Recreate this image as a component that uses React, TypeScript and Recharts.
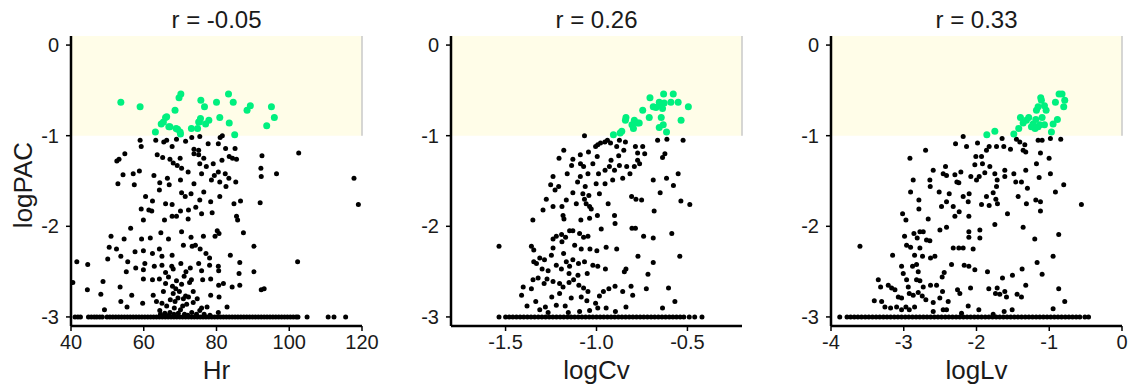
import { ScatterChart, Scatter, XAxis, YAxis, ReferenceArea, ReferenceLine } from 'recharts';

const FONT = '"Liberation Sans", Arial, Helvetica, sans-serif';

type P = [number, number];

const titles = ['r = -0.05', 'r = 0.26', 'r = 0.33'];
const xNames = ['Hr', 'logCv', 'logLv'];
const yName = 'logPAC';

const yTicks = [-3, -2, -1, 0];
const hrTicks = [40, 60, 80, 100, 120];
const cvTicks = [-1.5, -1.0, -0.5];
const lvTicks = [-4, -3, -2, -1, 0];

// ---- Hr panel ----
const hrHigh: P[] = [
  [53.7, -0.63], [59.0, -0.68], [70.2, -0.54], [69.7, -0.58], [68.6, -0.72], [66.0, -0.80], [65.4, -0.85],
  [64.8, -0.87], [63.2, -0.96], [67.2, -0.90], [68.9, -0.92], [70.0, -0.96], [69.3, -0.93], [75.7, -0.61],
  [76.7, -0.68], [75.6, -0.81], [75.1, -0.85], [74.8, -0.92], [73.1, -0.92], [77.9, -0.83], [77.0, -0.87],
  [80.0, -0.63], [80.9, -0.80], [83.3, -0.54], [84.6, -0.63], [83.5, -0.86], [85.0, -0.99], [88.4, -0.72],
  [89.3, -0.67], [95.1, -0.68], [95.9, -0.80], [93.8, -0.89], [66.3, -0.79], [66.9, -0.90], [70.1, -0.98],
  [75.3, -0.85],
];
const hrLow: P[] = [
  [59.0, -1.05], [59.3, -1.12], [63.3, -1.05], [65.5, -1.07], [66.3, -1.05], [69.0, -1.04], [71.5, -1.06],
  [73.2, -1.02], [75.4, -1.01], [67.8, -1.12], [73.8, -1.15], [75.1, -1.16], [77.7, -1.09], [81.0, -1.02],
  [81.6, -1.00], [80.5, -1.09], [85.1, -1.14], [82.5, -1.14], [102.6, -1.19],
  [52.6, -1.28], [53.2, -1.26], [54.8, -1.20], [63.7, -1.21], [65.2, -1.24], [67.2, -1.26], [68.1, -1.30],
  [70.0, -1.25], [69.2, -1.33], [70.4, -1.36], [73.8, -1.20], [75.1, -1.21], [76.5, -1.25], [77.2, -1.34],
  [75.4, -1.31], [75.9, -1.42], [79.1, -1.31], [80.5, -1.40], [81.5, -1.27], [83.5, -1.23], [84.4, -1.25],
  [85.5, -1.26], [92.5, -1.22], [92.2, -1.36], [92.3, -1.45], [96.5, -1.42], [117.8, -1.47], [119.0, -1.76],
  [54.3, -1.43], [52.9, -1.53], [57.1, -1.42], [57.4, -1.54], [58.8, -1.39], [62.8, -1.44], [64.3, -1.60],
  [64.4, -1.52], [66.5, -1.47], [67.0, -1.54], [70.1, -1.49], [72.2, -1.40], [73.8, -1.53], [78.6, -1.49],
  [79.4, -1.44], [80.9, -1.51], [82.6, -1.56], [83.4, -1.47], [85.3, -1.51], [82.4, -1.42], [60.5, -1.67],
  [62.4, -1.72], [61.4, -1.82], [66.0, -1.75], [67.8, -1.76], [70.4, -1.63], [71.4, -1.67], [73.0, -1.64],
  [72.3, -1.82], [75.4, -1.71], [76.5, -1.62], [78.4, -1.73], [80.9, -1.67], [84.8, -1.75], [86.6, -1.72],
  [92.0, -1.74], [59.3, -1.81], [62.2, -1.83], [70.1, -1.83], [74.3, -1.79],
  [59.9, -1.93], [56.4, -2.02], [65.7, -1.93], [67.8, -1.89], [69.0, -1.89], [72.2, -1.92], [75.9, -1.86],
  [78.8, -1.85], [85.5, -1.89], [85.8, -1.93], [70.4, -2.06], [64.7, -2.07], [59.4, -2.14], [61.8, -2.13],
  [51.0, -2.11], [54.6, -2.14], [66.8, -2.14], [73.0, -2.12], [76.4, -2.11], [80.2, -2.05], [80.7, -2.08],
  [79.6, -2.11], [87.4, -2.07], [74.2, -2.21],
  [50.5, -2.23], [52.5, -2.25], [50.1, -2.36], [53.7, -2.33], [57.6, -2.28], [59.9, -2.27], [62.4, -2.30],
  [64.3, -2.25], [65.0, -2.33], [67.8, -2.32], [70.9, -2.21], [73.3, -2.22], [75.5, -2.25], [77.1, -2.30],
  [78.1, -2.35], [83.8, -2.32], [90.3, -2.22], [41.6, -2.39], [44.6, -2.42], [55.6, -2.39], [57.8, -2.46],
  [60.3, -2.41], [62.9, -2.44], [65.0, -2.43], [67.7, -2.44], [70.2, -2.41], [72.8, -2.46], [75.1, -2.41],
  [78.1, -2.43], [80.5, -2.44], [86.4, -2.40], [102.3, -2.39], [55.2, -2.50], [59.9, -2.48], [66.0, -2.51],
  [68.1, -2.47], [71.6, -2.50], [75.9, -2.49], [80.6, -2.49], [86.2, -2.52], [90.3, -2.50],
  [40.5, -2.62], [44.5, -2.70], [48.2, -2.75], [48.8, -2.61], [53.5, -2.67], [56.7, -2.76], [59.9, -2.58],
  [62.4, -2.59], [64.3, -2.58], [66.8, -2.56], [69.0, -2.60], [70.4, -2.64], [73.1, -2.59], [76.2, -2.59],
  [78.4, -2.58], [80.6, -2.65], [81.9, -2.63], [84.3, -2.67], [86.4, -2.65], [92.3, -2.70], [93.1, -2.69],
  [62.6, -2.76], [65.4, -2.72], [68.1, -2.74], [71.5, -2.77], [73.6, -2.72], [78.4, -2.76], [80.7, -2.78],
  [49.2, -2.92], [53.7, -2.83], [55.4, -2.89], [59.7, -2.85], [63.5, -2.83], [66.3, -2.88], [68.6, -2.83],
  [71.8, -2.86], [73.6, -2.84], [75.9, -2.90], [77.4, -2.89], [82.9, -2.89], [64.4, -2.93], [67.2, -2.95],
  [70.1, -2.92], [73.2, -2.95], [75.4, -2.93], [80.5, -2.95], [64.6, -2.97], [65.8, -2.96], [66.9, -2.98],
  [68.3, -2.97], [69.5, -2.96], [71.2, -2.97], [72.1, -2.98], [74.5, -2.97], [76.6, -2.97], [78.2, -2.98],
  [67.9, -2.66], [68.8, -2.69], [69.8, -2.72], [70.9, -2.80], [72.3, -2.78], [69.4, -2.79], [67.3, -2.81],
  [66.0, -2.63], [71.1, -2.55], [72.6, -2.62], [74.7, -2.80], [68.4, -2.90], [65.0, -2.85], [70.7, -2.88],
];
const hrFloor = [
  41.1, 41.9, 42.6, 44.8, 45.6, 46.4, 47.1, 47.9, 48.6, 49.9, 50.7, 51.5, 52.3, 53.1, 53.9, 54.7, 55.5,
  56.3, 57.1, 57.9, 58.7, 59.5, 60.3, 61.1, 61.9, 62.7, 63.5, 64.3, 65.1, 65.9, 66.7, 67.5, 68.3, 69.1,
  69.9, 70.7, 71.5, 72.3, 73.1, 73.9, 74.7, 75.5, 76.3, 77.1, 77.9, 78.7, 79.5, 80.3, 81.1, 81.9, 82.7,
  83.5, 84.3, 85.1, 85.9, 86.7, 87.5, 88.3, 89.1, 89.9, 90.7, 91.5, 92.3, 93.1, 93.9, 94.7, 95.5, 96.3,
  97.1, 97.9, 98.7, 99.5, 100.3, 101.1, 101.9, 102.4, 104.9, 110.7, 112.3, 115.5,
];

// ---- logCv panel ----
const cvHigh: P[] = [
  [-0.907, -0.99], [-0.87, -0.97], [-0.861, -0.95], [-0.838, -0.80], [-0.841, -0.83], [-0.792, -0.83],
  [-0.805, -0.88], [-0.797, -0.92], [-0.774, -0.86], [-0.765, -0.86], [-0.746, -0.72], [-0.706, -0.58],
  [-0.71, -0.80], [-0.688, -0.68], [-0.673, -0.69], [-0.655, -0.63], [-0.646, -0.66], [-0.637, -0.70],
  [-0.644, -0.80], [-0.631, -0.54], [-0.628, -0.64], [-0.578, -0.54], [-0.591, -0.63], [-0.551, -0.63],
  [-0.495, -0.68], [-0.535, -0.83], [-0.655, -0.91], [-0.633, -0.88], [-0.615, -0.96],
];
const cvLow: P[] = [
  [-1.066, -1.00], [-0.664, -1.05], [-0.613, -1.04], [-0.524, -1.05], [-0.624, -1.20], [-0.637, -1.24],
  [-0.551, -1.42], [-0.615, -1.47], [-0.688, -1.49], [-0.577, -1.55], [-0.650, -1.63], [-0.536, -1.72],
  [-0.487, -1.76], [-0.683, -1.83], [-0.586, -2.08], [-0.688, -2.13], [-0.741, -2.11], [-0.542, -2.33],
  [-0.688, -2.40], [-0.717, -2.53], [-0.604, -2.68], [-0.726, -2.69], [-0.569, -2.83], [-0.637, -2.90],
  [-1.536, -2.22], [-1.350, -1.93],
  [-1.18, -1.16], [-1.130, -1.26], [-1.089, -1.21], [-1.044, -1.18], [-1.005, -1.12], [-0.993, -1.10],
  [-0.978, -1.08], [-0.954, -1.07], [-0.940, -1.05], [-0.923, -1.08], [-0.889, -1.12], [-0.874, -1.05],
  [-0.841, -1.07], [-0.850, -1.16], [-0.786, -1.12], [-0.774, -1.19], [-0.746, -1.12], [-0.735, -1.20],
  [-0.878, -1.22], [-0.920, -1.27], [-0.996, -1.23], [-1.020, -1.31], [-1.088, -1.31], [-1.206, -1.25],
  [-1.137, -1.33], [-1.071, -1.34], [-1.047, -1.42], [-0.989, -1.42], [-0.953, -1.38], [-0.929, -1.34],
  [-0.901, -1.38], [-0.874, -1.33], [-0.834, -1.34], [-0.816, -1.42], [-0.792, -1.34], [-0.774, -1.27],
  [-0.763, -1.31], [-0.856, -1.47], [-0.911, -1.49], [-0.953, -1.53], [-1.002, -1.53], [-1.104, -1.51],
  [-1.089, -1.45], [-1.161, -1.42], [-1.239, -1.45], [-1.252, -1.54], [-1.228, -1.60], [-1.208, -1.56],
  [-1.130, -1.63], [-1.062, -1.56], [-1.075, -1.64], [-1.042, -1.66], [-0.984, -1.64], [-1.066, -1.70],
  [-1.057, -1.75], [-1.038, -1.78], [-1.276, -1.70], [-1.294, -1.82], [-1.239, -1.78], [-1.190, -1.78],
  [-1.166, -1.71], [-1.111, -1.75], [-1.029, -1.81], [-0.995, -1.88], [-0.936, -1.75], [-0.901, -1.88],
  [-0.807, -1.67], [-0.783, -1.70], [-0.752, -1.71], [-1.184, -1.88], [-1.179, -1.92], [-1.038, -1.91],
  [-1.086, -1.93], [-0.974, -2.03], [-0.898, -1.97], [-0.805, -2.02], [-0.786, -2.02],
  [-1.148, -2.05], [-1.130, -2.05], [-1.192, -2.09], [-1.170, -2.12], [-1.239, -2.14], [-1.221, -2.11],
  [-1.093, -2.08], [-1.071, -2.12], [-1.047, -2.11], [-1.358, -2.22], [-1.345, -2.26], [-1.239, -2.24],
  [-1.190, -2.17], [-1.120, -2.21], [-1.084, -2.25], [-1.036, -2.25], [-0.998, -2.27], [-0.947, -2.23],
  [-0.889, -2.25], [-0.772, -2.33], [-1.345, -2.39], [-1.330, -2.41], [-1.312, -2.35], [-1.286, -2.37],
  [-1.248, -2.32], [-1.221, -2.43], [-1.181, -2.30], [-1.166, -2.39], [-1.148, -2.44], [-1.130, -2.37],
  [-1.099, -2.41], [-1.066, -2.39], [-1.020, -2.43], [-0.993, -2.44], [-0.951, -2.47], [-0.847, -2.50],
  [-0.838, -2.47], [-1.299, -2.47], [-1.266, -2.49], [-1.193, -2.47], [-1.151, -2.52], [-1.102, -2.54],
  [-1.051, -2.52],
  [-1.349, -2.59], [-1.321, -2.57], [-1.288, -2.63], [-1.272, -2.58], [-1.239, -2.61], [-1.203, -2.63],
  [-1.184, -2.67], [-1.151, -2.62], [-1.126, -2.59], [-1.097, -2.65], [-1.071, -2.68], [-1.047, -2.72],
  [-0.984, -2.77], [-0.962, -2.72], [-0.932, -2.69], [-0.898, -2.66], [-0.856, -2.72], [-0.810, -2.66],
  [-0.801, -2.76], [-1.412, -2.76], [-1.403, -2.67], [-1.358, -2.69], [-1.382, -2.88], [-1.334, -2.83],
  [-1.312, -2.92], [-1.281, -2.89], [-1.246, -2.78], [-1.221, -2.87], [-1.203, -2.74], [-1.172, -2.88],
  [-1.139, -2.79], [-1.084, -2.78], [-1.053, -2.82], [-1.005, -2.85], [-0.993, -2.90], [-0.947, -2.90],
  [-0.896, -2.94], [-0.838, -2.89], [-1.266, -2.95], [-1.155, -2.95], [-1.093, -2.94], [-1.038, -2.93],
];
const cvFloor = [
  -1.536, -1.50, -1.48, -1.46, -1.44, -1.42, -1.40, -1.38, -1.36, -1.34, -1.32, -1.30, -1.28, -1.26,
  -1.24, -1.22, -1.20, -1.18, -1.16, -1.14, -1.12, -1.10, -1.08, -1.06, -1.04, -1.02, -1.00, -0.98,
  -0.96, -0.94, -0.92, -0.90, -0.88, -0.86, -0.84, -0.82, -0.80, -0.78, -0.76, -0.74, -0.72, -0.70,
  -0.68, -0.66, -0.64, -0.62, -0.60, -0.58, -0.56, -0.54, -0.52, -0.49, -0.46, -0.42,
];

// ---- logLv panel ----
const lvHigh: P[] = [
  [-1.858, -0.99], [-1.748, -0.95], [-1.487, -0.98], [-1.419, -0.92], [-1.396, -0.80], [-1.359, -0.86],
  [-1.314, -0.83], [-1.282, -0.80], [-1.245, -0.90], [-1.222, -0.87], [-1.185, -0.82], [-1.153, -0.90],
  [-1.130, -0.88], [-1.176, -0.72], [-1.098, -0.80], [-1.066, -0.88], [-1.117, -0.58], [-1.108, -0.61],
  [-1.066, -0.67], [-1.043, -0.72], [-1.153, -0.68], [-0.915, -0.63], [-0.865, -0.54], [-0.824, -0.54],
  [-0.787, -0.61], [-0.801, -0.68], [-0.888, -0.82], [-0.947, -0.87], [-0.970, -0.96], [-1.195, -0.92],
];
const lvLow: P[] = [
  [-2.183, -1.01], [-2.288, -1.09], [-2.137, -1.12], [-1.986, -1.08], [-1.863, -1.16], [-1.826, -1.12],
  [-1.725, -1.12], [-1.648, -1.03], [-1.625, -1.12], [-1.533, -1.15], [-1.451, -1.04], [-1.405, -1.07],
  [-1.336, -1.10], [-1.359, -1.16], [-1.323, -1.18], [-1.153, -1.05], [-1.098, -1.05], [-0.984, -1.03],
  [-0.842, -1.04], [-1.121, -1.19], [-1.002, -1.25], [-1.176, -1.31], [-2.700, -1.16], [-2.915, -1.25],
  [-2.870, -1.49], [-2.906, -1.62], [-3.016, -1.86], [-2.970, -1.93], [-2.792, -1.71], [-2.792, -1.81],
  [-2.664, -1.92], [-2.641, -1.49], [-2.636, -1.56], [-2.595, -1.38], [-2.426, -1.34], [-2.412, -1.44],
  [-2.458, -1.42], [-2.513, -1.62], [-2.481, -1.78], [-2.412, -1.73], [-2.375, -1.64], [-2.297, -1.43],
  [-2.270, -1.51], [-2.243, -1.52], [-2.215, -1.40], [-2.320, -1.78], [-2.238, -1.84], [-2.183, -1.67],
  [-2.101, -1.64], [-2.114, -1.73], [-2.078, -1.45], [-2.023, -1.32], [-2.009, -1.23], [-1.931, -1.23],
  [-1.918, -1.31], [-2.000, -1.49], [-1.963, -1.45], [-1.886, -1.41], [-1.817, -1.34], [-1.748, -1.42],
  [-1.716, -1.49], [-1.725, -1.56], [-1.611, -1.38], [-1.611, -1.45], [-1.487, -1.42], [-1.460, -1.51],
  [-1.382, -1.51], [-1.323, -1.38], [-1.300, -1.58], [-1.139, -1.46], [-0.984, -1.42], [-0.801, -1.54],
  [-0.915, -1.62], [-0.558, -1.76], [-1.931, -1.76], [-1.863, -1.67], [-1.826, -1.77], [-1.771, -1.63],
  [-1.734, -1.70], [-1.712, -1.75], [-1.574, -1.86], [-1.428, -1.67], [-1.314, -1.75], [-1.185, -1.71],
  [-1.121, -1.73], [-1.121, -1.83], [-2.503, -2.04], [-2.412, -2.01], [-2.297, -1.89], [-2.105, -1.89],
  [-2.105, -2.06], [-2.105, -2.12], [-1.954, -2.04], [-1.954, -2.13], [-1.748, -1.98], [-1.359, -2.01],
  [-1.199, -2.14], [-0.870, -2.09], [-3.602, -2.22], [-3.153, -2.32], [-2.989, -2.11], [-2.961, -2.21],
  [-2.906, -2.23], [-2.860, -2.08], [-2.815, -2.13], [-2.778, -2.06], [-2.732, -2.06], [-2.687, -2.15],
  [-2.641, -2.16], [-2.778, -2.24], [-2.851, -2.32], [-2.742, -2.33], [-2.632, -2.35], [-2.572, -2.33],
  [-2.320, -2.24], [-2.243, -2.24], [-2.183, -2.24], [-2.046, -2.25], [-2.169, -2.43], [-2.105, -2.44],
  [-2.023, -2.48], [-2.343, -2.42], [-2.444, -2.51], [-2.472, -2.56], [-2.549, -2.65], [-3.030, -2.44],
  [-3.007, -2.52], [-2.879, -2.44], [-2.824, -2.42], [-2.801, -2.50], [-2.961, -2.59], [-2.938, -2.67],
  [-2.824, -2.59], [-2.778, -2.60], [-2.732, -2.67], [-2.632, -2.65], [-2.801, -2.73], [-2.870, -2.76],
  [-2.746, -2.77], [-2.924, -2.74], [-3.350, -2.59], [-3.318, -2.67], [-3.213, -2.65], [-3.167, -2.68],
  [-3.121, -2.70], [-3.075, -2.78], [-3.030, -2.79], [-3.405, -2.82], [-3.304, -2.83], [-3.259, -2.89],
  [-3.181, -2.90], [-3.098, -2.89], [-3.030, -2.92], [-2.970, -2.89], [-2.924, -2.92], [-2.851, -2.89],
  [-2.696, -2.81], [-2.595, -2.84], [-2.504, -2.79], [-2.467, -2.72], [-2.389, -2.83], [-2.412, -2.92],
  [-2.261, -2.70], [-2.229, -2.74], [-2.114, -2.88], [-2.082, -2.68], [-1.968, -2.92], [-1.849, -2.50],
  [-1.831, -2.69], [-1.739, -2.74], [-1.716, -2.68], [-1.680, -2.75], [-1.643, -2.57], [-1.611, -2.72],
  [-1.620, -2.94], [-1.588, -2.78], [-1.506, -2.54], [-1.442, -2.75], [-1.373, -2.47], [-1.382, -2.78],
  [-1.323, -2.65], [-1.510, -2.92], [-1.167, -2.40], [-1.098, -2.53], [-0.947, -2.33], [-0.870, -2.69],
  [-0.947, -2.91], [-0.787, -2.83], [-2.458, -2.92], [-2.595, -2.94], [-2.206, -2.96], [-1.771, -2.97],
];
const lvFloor = [
  -3.88, -3.78, -3.73, -3.68, -3.63, -3.58, -3.53, -3.48, -3.43, -3.38, -3.33, -3.28, -3.23, -3.18, -3.13,
  -3.08, -3.03, -2.98, -2.93, -2.88, -2.83, -2.78, -2.73, -2.68, -2.63, -2.58, -2.53, -2.48, -2.43, -2.38,
  -2.33, -2.28, -2.23, -2.18, -2.13, -2.08, -2.03, -1.98, -1.93, -1.88, -1.83, -1.78, -1.73, -1.68, -1.63,
  -1.58, -1.53, -1.48, -1.43, -1.38, -1.33, -1.28, -1.23, -1.18, -1.13, -1.08, -1.03, -0.98, -0.93, -0.88,
  -0.83, -0.78, -0.73, -0.68, -0.63, -0.58, -0.51, -0.46,
];

const toPts = (arr: P[]) => arr.map(([x, y]) => ({ x, y }));
const floorPts = (xs: number[]) => xs.map((x) => ({ x, y: -3 }));

const dot = (r: number, color: string) => (p: any) => <circle cx={p.cx} cy={p.cy} r={r} fill={color} />;

const tickStyle = { fontSize: 20, fill: '#1a1a1a', fontFamily: FONT };

interface PanelProps {
  title: string;
  xName: string;
  showY: boolean;
  domain: [number, number];
  ticks: number[];
  fmt: (v: number) => string;
  high: P[];
  low: P[];
  floor: number[];
}

function Panel({ title, xName, showY, domain, ticks, fmt, high, low, floor }: PanelProps) {
  return (
    <div style={{ position: 'relative', width: 380, height: 388 }}>
      <ScatterChart width={380} height={388} margin={{ top: 36, right: 18, bottom: 32, left: 11 }}>
        <ReferenceArea x1={domain[0]} x2={domain[1]} y1={-1} y2={0.1} fill="#fffde8" fillOpacity={1} stroke="none" />
        <ReferenceLine
          segment={[{ x: domain[1], y: -1 }, { x: domain[1], y: 0.1 }]}
          stroke="#c8c8c8"
          strokeWidth={1.5}
        />
        <XAxis
          type="number"
          dataKey="x"
          domain={domain}
          ticks={ticks}
          allowDataOverflow
          height={30}
          tickSize={5}
          tickMargin={4}
          tickFormatter={fmt}
          tick={tickStyle}
          axisLine={{ stroke: '#000', strokeWidth: 2.5 }}
          tickLine={{ stroke: '#000', strokeWidth: 1.5 }}
        />
        <YAxis
          type="number"
          dataKey="y"
          domain={[-3.1, 0.1]}
          ticks={yTicks}
          allowDataOverflow
          width={60}
          tickSize={5}
          tickMargin={7}
          tick={tickStyle}
          axisLine={{ stroke: '#000', strokeWidth: 2.5 }}
          tickLine={{ stroke: '#000', strokeWidth: 1.5 }}
        />
        <Scatter data={floorPts(floor)} shape={dot(2.5, '#000')} isAnimationActive={false} />
        <Scatter data={toPts(low)} shape={dot(2.5, '#000')} isAnimationActive={false} />
        <Scatter data={toPts(high)} shape={dot(3.5, '#00f07f')} isAnimationActive={false} />
      </ScatterChart>
      <div style={{ position: 'absolute', left: 71, width: 291, top: 6, textAlign: 'center', fontFamily: FONT, fontSize: 24, lineHeight: '28px', color: '#1a1a1a' }}>
        {title}
      </div>
      <div style={{ position: 'absolute', left: 71, width: 291, top: 355, textAlign: 'center', fontFamily: FONT, fontSize: 26, lineHeight: '30px', color: '#1a1a1a' }}>
        {xName}
      </div>
      {showY && (
        <div style={{ position: 'absolute', left: -77, top: 170, width: 200, height: 30, transform: 'rotate(-90deg)', textAlign: 'center', fontFamily: FONT, fontSize: 26, lineHeight: '30px', color: '#1a1a1a' }}>
          {yName}
        </div>
      )}
    </div>
  );
}

export default function App() {
  const intFmt = (v: number) => `${v}`;
  const oneDec = (v: number) => v.toFixed(1);
  return (
    <div style={{ position: 'absolute', left: 0, top: 0, width: 1141, height: 388, display: 'flex', background: '#fff' }}>
      <Panel title={titles[0]} xName={xNames[0]} showY domain={[40, 120]} ticks={hrTicks} fmt={intFmt} high={hrHigh} low={hrLow} floor={hrFloor} />
      <Panel title={titles[1]} xName={xNames[1]} showY={false} domain={[-1.8, -0.2]} ticks={cvTicks} fmt={oneDec} high={cvHigh} low={cvLow} floor={cvFloor} />
      <Panel title={titles[2]} xName={xNames[2]} showY={false} domain={[-4, 0]} ticks={lvTicks} fmt={intFmt} high={lvHigh} low={lvLow} floor={lvFloor} />
    </div>
  );
}
